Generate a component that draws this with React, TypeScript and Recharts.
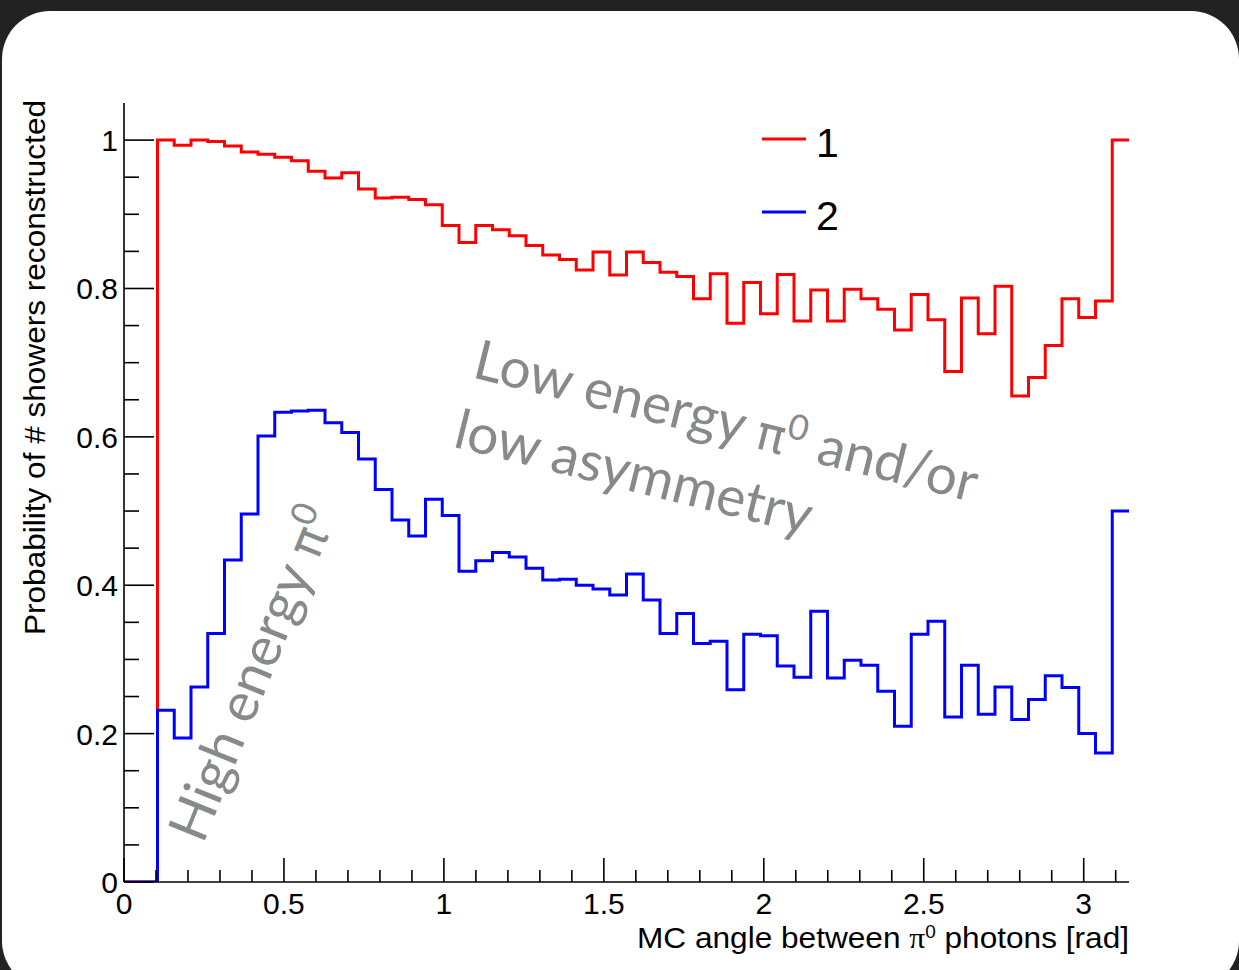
import React from 'react';
import { LineChart, Line, XAxis, YAxis, Legend } from 'recharts';

// ---------- data ----------
const binCount = 60;
const xMin = 0;
const xMax = Math.PI;

const series1Name = '1';
const series2Name = '2';
const series1Color = '#ff0000';
const series2Color = '#0000ff';

// bin contents, bins 0..59 (width pi/60)
const series1Values = [
  0, 0, 1.0, 0.993, 1.0, 0.998, 0.992, 0.984, 0.981, 0.977,
  0.972, 0.958, 0.949, 0.956, 0.934, 0.922, 0.923, 0.92, 0.913, 0.885,
  0.862, 0.885, 0.879, 0.871, 0.858, 0.845, 0.839, 0.825, 0.849, 0.818,
  0.849, 0.835, 0.822, 0.816, 0.786, 0.82, 0.753, 0.808, 0.766, 0.819,
  0.756, 0.798, 0.756, 0.799, 0.786, 0.772, 0.744, 0.792, 0.758, 0.688,
  0.787, 0.739, 0.803, 0.655, 0.68, 0.723, 0.786, 0.761, 0.783, 1.0,
];
const series2Values = [
  0, 0, 0.2315, 0.194, 0.263, 0.335, 0.434, 0.496, 0.601, 0.633,
  0.635, 0.636, 0.619, 0.606, 0.57, 0.529, 0.488, 0.4665, 0.516, 0.494,
  0.419, 0.433, 0.444, 0.438, 0.423, 0.407, 0.408, 0.4, 0.395, 0.387,
  0.415, 0.38, 0.335, 0.362, 0.3215, 0.3245, 0.259, 0.334, 0.332, 0.291,
  0.276, 0.365, 0.275, 0.299, 0.292, 0.257, 0.21, 0.334, 0.3515, 0.2225,
  0.292, 0.226, 0.263, 0.219, 0.246, 0.278, 0.262, 0.2, 0.174, 0.5,
];

const xTickValues = [0, 0.1, 0.2, 0.3, 0.4, 0.5, 0.6, 0.7, 0.8, 0.9, 1, 1.1, 1.2, 1.3, 1.4, 1.5, 1.6, 1.7, 1.8, 1.9, 2, 2.1, 2.2, 2.3, 2.4, 2.5, 2.6, 2.7, 2.8, 2.9, 3, 3.1];
const xMajorTicks = [0, 0.5, 1, 1.5, 2, 2.5, 3];
const xMajorLabels = ['0', '0.5', '1', '1.5', '2', '2.5', '3'];

const yTickValues = [0, 0.05, 0.1, 0.15, 0.2, 0.25, 0.3, 0.35, 0.4, 0.45, 0.5, 0.55, 0.6, 0.65, 0.7, 0.75, 0.8, 0.85, 0.9, 0.95, 1];
const yMajorTicks = [0, 0.2, 0.4, 0.6, 0.8, 1];
const yMajorLabels = ['0', '0.2', '0.4', '0.6', '0.8', '1'];
const yMax = 1.05;

const xTitle = 'MC angle between ';
const greekPi = 'π';
const xTitleEnd = ' photons [rad]';
const yTitle = 'Probability of # showers reconstructed';
const noteLow1a = 'Low energy ';
const noteLow1b = ' and/or';
const noteLow2 = 'low asymmetry';
const noteHigh = 'High energy ';

// histogram edges: value of bin k holds from edge k to edge k+1 (stepAfter)
const histData = Array.from({ length: binCount + 1 }, (_, k) => {
  const b = Math.min(k, binCount - 1);
  return {
    x: xMin + (k * (xMax - xMin)) / binCount,
    s1: series1Values[b],
    s2: series2Values[b],
  };
});

const FONT = "'Liberation Sans', Arial, Helvetica, sans-serif";
const NOTE_FONT = "Lato, 'Open Sans', sans-serif";
const PI_FONT = "'DejaVu Sans', 'Noto Sans', sans-serif";
const NOTE_COLOR = '#878a8a';

const findMajor = (arr: number[], v: number) => arr.findIndex((m) => Math.abs(m - v) < 1e-6);

const XTick = (props: any) => {
  const { x, y, payload } = props;
  const idx = findMajor(xMajorTicks, payload.value);
  const major = idx >= 0;
  return (
    <g>
      <line x1={x} x2={x} y1={y} y2={y - (major ? 24 : 12)} stroke="#000" strokeWidth={1.6} />
      {major && (
        <text x={x} y={y + 32} textAnchor="middle" fontSize={30} fontFamily={FONT} fill="#000">
          {xMajorLabels[idx]}
        </text>
      )}
    </g>
  );
};

const YTick = (props: any) => {
  const { x, y, payload } = props;
  const idx = findMajor(yMajorTicks, payload.value);
  const major = idx >= 0;
  return (
    <g>
      <line x1={x} x2={x + (major ? 30 : 15)} y1={y} y2={y} stroke="#000" strokeWidth={1.6} />
      {major && (
        <text x={x - 6} y={y + 11} textAnchor="end" fontSize={30} fontFamily={FONT} fill="#000">
          {yMajorLabels[idx]}
        </text>
      )}
    </g>
  );
};

const LegendContent = (props: any) => {
  const items = (props.payload || []) as any[];
  return (
    <svg width={110} height={150} style={{ overflow: 'visible' }}>
      {items.map((it, i) => (
        <g key={i}>
          <line x1={12} x2={56} y1={39 + i * 73} y2={39 + i * 73} stroke={it.color} strokeWidth={3} />
          <text x={66} y={57 + i * 73} fontSize={41} fontFamily={FONT} fill="#000">
            {it.value}
          </text>
        </g>
      ))}
    </svg>
  );
};

export default function App() {
  return (
    <div style={{ position: 'absolute', left: 0, top: 0, width: 1239, height: 970, background: '#222222', overflow: 'hidden' }}>
      <div style={{ position: 'absolute', left: 2, top: 11, width: 1237, height: 978, background: '#ffffff', borderRadius: 48 }} />
      <div style={{ position: 'absolute', left: 0, top: 0 }}>
        <LineChart width={1239} height={970} data={histData} margin={{ top: 103, right: 110, bottom: 28, left: 0 }}>
          <XAxis
            dataKey="x"
            type="number"
            domain={[xMin, xMax]}
            ticks={xTickValues}
            interval={0}
            tickSize={0}
            tickMargin={0}
            tickLine={false}
            tick={(p: any) => <XTick {...p} />}
            axisLine={{ stroke: '#000', strokeWidth: 1.6 }}
            height={60}
            allowDataOverflow
          />
          <YAxis
            type="number"
            domain={[0, yMax]}
            ticks={yTickValues}
            interval={0}
            tickSize={0}
            tickMargin={0}
            tickLine={false}
            tick={(p: any) => <YTick {...p} />}
            axisLine={{ stroke: '#000', strokeWidth: 1.6 }}
            width={124}
            allowDataOverflow
          />
          <Line type="stepAfter" dataKey="s1" name={series1Name} stroke={series1Color} strokeWidth={3} dot={false} isAnimationActive={false} />
          <Line type="stepAfter" dataKey="s2" name={series2Name} stroke={series2Color} strokeWidth={3} dot={false} isAnimationActive={false} />
          <Legend
            layout="horizontal"
            verticalAlign="middle"
            align="center"
            content={LegendContent}
            wrapperStyle={{ position: 'absolute', left: 750, top: 100, width: 110, height: 150 }}
          />
        </LineChart>
      </div>
      <svg width={1239} height={970} style={{ position: 'absolute', left: 0, top: 0, pointerEvents: 'none' }}>
        <text x={45} y={635} transform="rotate(-90 45 635)" fontSize={29} fontFamily={FONT} fill="#000" textLength={535} lengthAdjust="spacingAndGlyphs">
          {yTitle}
        </text>
        <text x={637} y={948} fontSize={30} fontFamily={FONT} fill="#000" textLength={492} lengthAdjust="spacingAndGlyphs">
          {xTitle}
          <tspan fontFamily="'Liberation Serif', 'Times New Roman', serif">{greekPi}</tspan>
          <tspan dy={-10} fontSize={18}>0</tspan>
          <tspan dy={10}>{xTitleEnd}</tspan>
        </text>
        <g transform="translate(471 377) rotate(14)">
          <text x={0} y={0} fontSize={55} fontFamily={NOTE_FONT} fill={NOTE_COLOR}>
            {noteLow1a}
            <tspan fontFamily={PI_FONT} fontSize={48}>{greekPi}</tspan>
            <tspan dy={-18} fontSize={35}>0</tspan>
            <tspan dy={18}>{noteLow1b}</tspan>
          </text>
          <text x={-2} y={72} fontSize={55} fontFamily={NOTE_FONT} fill={NOTE_COLOR}>
            {noteLow2}
          </text>
        </g>
        <g transform="translate(203 845) rotate(-68)">
          <text x={0} y={0} fontSize={55} fontFamily={NOTE_FONT} fill={NOTE_COLOR}>
            {noteHigh}
            <tspan fontFamily={PI_FONT} fontSize={48}>{greekPi}</tspan>
            <tspan dy={-18} fontSize={35}>0</tspan>
          </text>
        </g>
      </svg>
    </div>
  );
}
